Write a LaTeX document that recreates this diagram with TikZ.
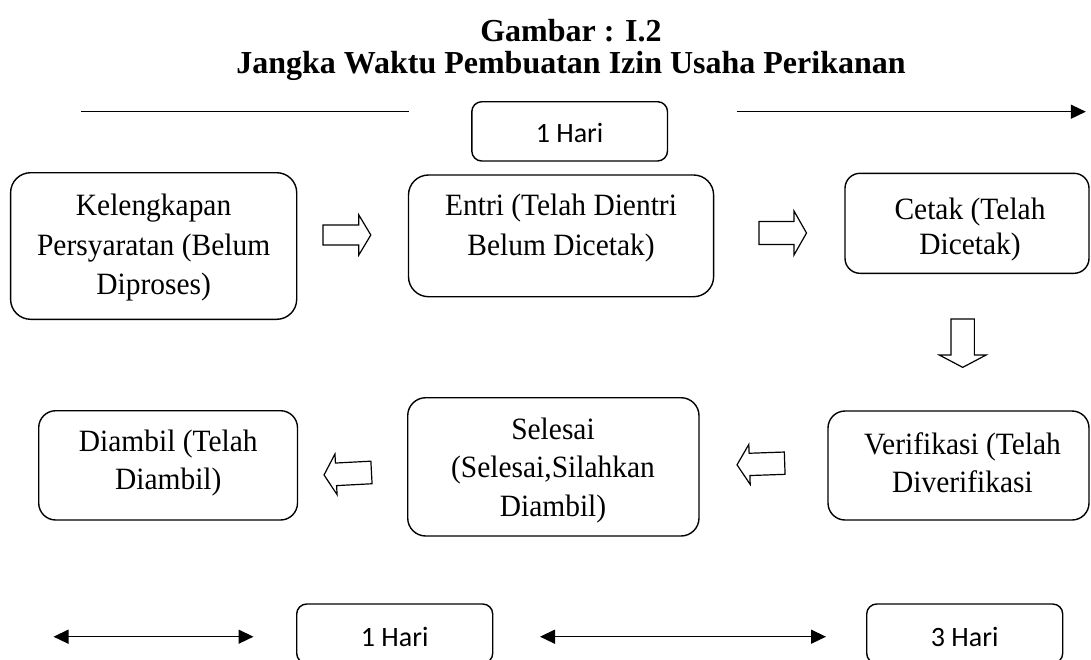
\documentclass[tikz,border=0pt]{standalone}
\usepackage{fontspec}
\setmainfont{Liberation Serif}
\newfontfamily\bodyfont[FakeStretch=0.95]{Liberation Serif}
\newfontfamily\calib{Carlito}
\usetikzlibrary{arrows.meta}
\tikzset{
  box/.style={draw, line width=1.4pt, inner sep=0pt, rounded corners=#1},
  box/.default=18pt,
  txt/.style={align=center, inner sep=0pt, font=\bodyfont\fontsize{31}{#1}\selectfont},
  txt/.default=38,
  hari/.style={inner sep=0pt, font=\calib\fontsize{28}{32}\selectfont},
  titletxt/.style={anchor=base, inner sep=0pt, font=\bfseries\fontsize{32}{32}\selectfont},
  blk/.style={draw, line width=1.2pt, line join=miter, fill=white},
  ln/.style={line width=1.5pt},
  tip/.style={line width=1.5pt, -{Triangle[length=15pt,width=14pt]}},
  dtip/.style={line width=1.5pt, {Triangle[length=15pt,width=14pt]}-{Triangle[length=15pt,width=14pt]}}
}
% block arrow: cx, cy, angle, length, head width, shaft width, head length
\newcommand\blkarrow[7]{%
  \draw[blk, shift={(#1,#2)}, rotate=#3]
    (-#4/2,-#6/2) -- (#4/2-#7,-#6/2) -- (#4/2-#7,-#5/2) -- (#4/2,0)
    -- (#4/2-#7,#5/2) -- (#4/2-#7,#6/2) -- (-#4/2,#6/2) -- cycle;}
\begin{document}
\begin{tikzpicture}[x=1pt,y=-1pt]
\useasboundingbox (0,0) rectangle (1091,659);
\fill[white] (0,0) rectangle (1091,659);

% title
\node[titletxt] (t1) at (571,41.7) {Gambar : I.2};
\node[titletxt] (t2) at (571,73.3) {Jangka Waktu Pembuatan Izin Usaha Perikanan};

% top timeline
\coordinate (tl1) at (81,111.7);
\coordinate (tl2) at (409,111.7);
\coordinate (tr1) at (736.5,111.7);
\coordinate (tr2) at (1085.8,111.7);
\draw[ln] (tl1) -- (tl2);
\draw[tip] (tr1) -- (tr2);
\node[box=10pt, minimum width=195.7pt, minimum height=59.3pt] (T1) at (569.65,131.35) {};
\node[hari] (T1t) at (569.6,133) {1 Hari};

% boxes row 1
\node[box=20pt, minimum width=286.1pt, minimum height=146.6pt] (A) at (153.65,246) {};
\node[txt=39.5] (At) at (153.6,247.7) {Kelengkapan\\Persyaratan (Belum\\Diproses)};
\node[box=20pt, minimum width=305.1pt, minimum height=121.7pt] (B) at (561.05,235.85) {};
\node[txt=40] (Bt) at (561,228.3) {Entri (Telah Dientri\\Belum Dicetak)};
\node[box=15pt, minimum width=244pt, minimum height=100pt] (C) at (967,223.3) {};
\node[txt=35] (Ct) at (970,229.5) {Cetak (Telah\\Dicetak)};

% boxes row 2
\node[box=17pt, minimum width=258.8pt, minimum height=109.3pt] (D) at (168.1,465.35) {};
\node[txt=37.7] (Dt) at (168.3,463) {Diambil (Telah\\Diambil)};
\node[box=18pt, minimum width=291.3pt, minimum height=138.3pt] (E) at (553.35,466.85) {};
\node[txt=38.8] (Et) at (553,470.5) {Selesai\\(Selesai,Silahkan\\Diambil)};
\node[box=17pt, minimum width=261pt, minimum height=109pt] (F) at (958.5,465.5) {};
\node[txt=37.7] (Ft) at (962.5,463) {Verifikasi (Telah\\Diverifikasi};

% block arrows
\blkarrow{346.9}{235}{0}{47.8}{40}{20}{12}
\blkarrow{782.75}{233}{0}{47.5}{44}{23}{12.5}
\blkarrow{962.7}{343.2}{-90}{48.3}{46.7}{23.3}{12.3}
\blkarrow{347.75}{473.7}{183}{47.5}{40.7}{22.6}{12}
\blkarrow{760.85}{464}{182}{47.7}{40}{22.3}{12.5}

% bottom timeline
\coordinate (bl1) at (53.5,636.7);
\coordinate (bl2) at (253.5,636.7);
\coordinate (bm1) at (540,636.7);
\coordinate (bm2) at (826,636.7);
\draw[dtip] (bl1) -- (bl2);
\draw[dtip] (bm1) -- (bm2);
\node[box=10pt, minimum width=196pt, minimum height=59.3pt] (H1) at (394.7,633.65) {};
\node[hari] (H1t) at (394.7,636.7) {1 Hari};
\node[box=10pt, minimum width=196pt, minimum height=59.3pt] (H3) at (964.7,633.65) {};
\node[hari] (H3t) at (964.7,636.7) {3 Hari};
\end{tikzpicture}
\end{document}
